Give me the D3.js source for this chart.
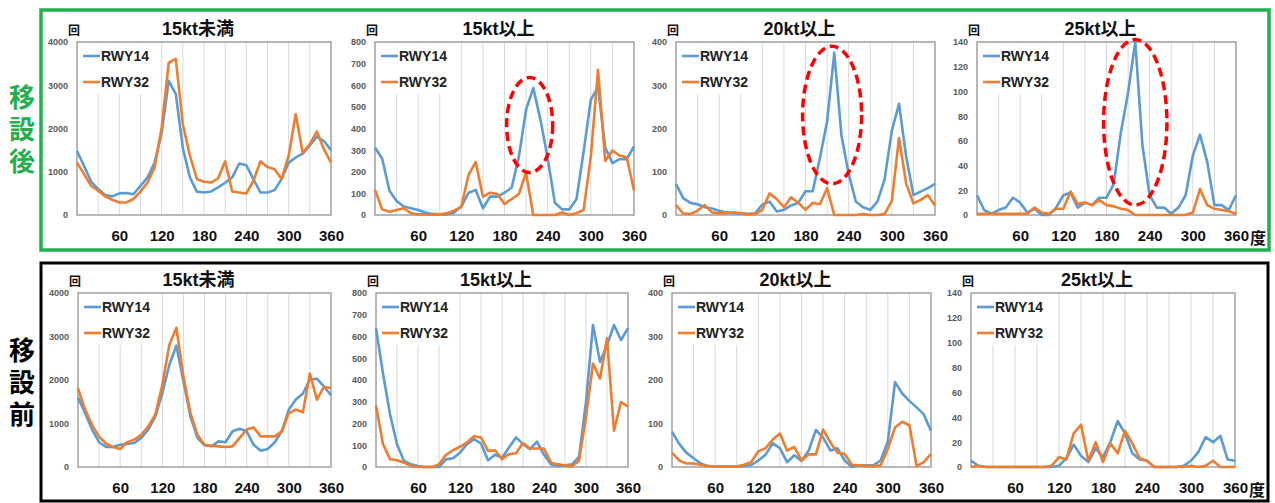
<!DOCTYPE html>
<html>
<head>
<meta charset="utf-8">
<script src="https://cdn.jsdelivr.net/npm/d3@7"></script>
<style>
  body { margin: 0; background: #fff; }
  svg { display: block; font-family: "Liberation Sans", Arial, "Noto Sans CJK JP", sans-serif; }
</style>
</head>
<body>
<svg id="chart" width="1275" height="503"></svg>
<script>
// wind direction (deg)
const deg = [0,10,20,30,40,50,60,70,80,90,100,110,120,130,140,150,160,170,180,190,200,210,220,230,240,250,260,270,280,290,300,310,320,330,340,350,360];
const xTicks = [60,120,180,240,300,360];
const gridDeg = [30,60,90,120,150,180,210,240,270,300,330];

const titles = ["15kt未満", "15kt以上", "20kt以上", "25kt以上"];
const yTicks = [
  [0,1000,2000,3000,4000],
  [0,100,200,300,400,500,600,700,800],
  [0,100,200,300,400],
  [0,20,40,60,80,100,120,140]
];

// 移設後
const afterLt15_14 = [1480,1140,770,600,460,430,500,510,480,675,870,1210,1900,3100,2800,1550,870,540,520,545,640,745,870,1190,1150,830,520,520,575,830,1210,1330,1420,1610,1810,1710,1500];
const afterLt15_32 = [1210,945,675,560,430,353,290,290,370,540,750,1100,2020,3520,3610,2100,1370,830,770,750,850,1240,545,520,500,790,1240,1110,1060,830,1370,2330,1430,1640,1930,1520,1210];
const after15_14 = [312,260,113,65,39,31,23,12,5,3,3,11,39,103,116,31,85,85,103,127,270,487,587,440,263,57,26,26,73,293,533,592,312,240,258,258,317];
const after15_32 = [116,26,15,23,31,8,3,3,3,3,8,20,39,185,244,85,103,97,51,74,97,196,0,0,0,0,12,0,8,23,270,672,250,298,275,266,113];
const after20_14 = [72,39,28,25,18,15,10,6,4,3,2,4,24,31,8,12,22,28,55,55,131,216,375,184,95,31,18,12,31,83,195,257,134,46,54,62,72];
const after20_32 = [23,4,2,10,23,6,4,4,6,4,2,2,12,50,37,18,41,28,12,28,25,62,0,0,0,0,2,0,0,2,33,178,72,27,35,46,22];
const after25_14 = [16,4,1,4,6,14,10,2,5,0,0,6,16,18,6,10,8,14,14,25,67,99,140,56,16,6,6,1,6,16,48,65,43,8,8,4,16];
const after25_32 = [1,1,1,1,1,1,1,1,6,2,1,5,5,19,9,10,8,12,8,7,5,4,0,0,0,0,0,0,0,0,2,21,8,5,4,3,1];

// 移設前
const beforeLt15_14 = [1600,1240,860,570,460,460,510,530,550,670,860,1160,1700,2350,2790,1970,1160,670,500,475,590,570,820,880,820,510,375,415,570,820,1320,1550,1690,2010,2030,1850,1650];
const beforeLt15_32 = [1815,1320,970,700,535,460,415,570,630,740,935,1200,1890,2810,3200,2080,1240,740,510,490,475,460,475,670,860,910,705,705,705,820,1240,1320,1260,2150,1550,1840,1815];
const before15_14 = [638,430,244,105,28,12,5,0,0,0,35,40,66,105,128,108,31,56,43,90,136,105,82,117,56,12,5,8,12,46,298,653,483,560,653,584,638];
const before15_32 = [283,105,36,31,20,5,0,0,0,12,56,77,93,113,141,136,74,77,36,59,63,110,85,85,85,20,12,8,3,28,229,476,406,592,167,298,278];
const before20_14 = [81,53,33,20,8,2,1,1,1,1,2,4,15,28,55,43,11,27,14,38,85,68,38,43,15,0,4,4,4,15,58,195,169,152,137,121,83];
const before20_32 = [33,15,8,8,5,2,1,1,1,1,5,11,36,43,63,77,38,46,15,29,29,86,57,33,30,5,4,2,2,4,42,91,104,96,2,11,30];
const before25_14 = [5,1,0,0,0,0,0,0,0,0,0,0,1,7,18,9,4,15,8,20,37,27,11,6,5,0,0,0,0,1,5,12,24,20,25,6,5];
const before25_32 = [0,1,0,0,0,0,0,0,0,0,0,1,8,6,27,34,5,20,4,19,11,29,19,7,5,0,0,0,0,0,1,0,1,5,0,0,0];

// red dashed ellipses (deg, value, half-width deg, half-height value)
const marks = [null, [215, 416, 32, 220], [217, 231, 41, 159], [220, 75, 44, 67]];

const blue = "#5b9bd5", orange = "#ed7d31";
const svg = d3.select("#chart");

// frames
svg.append("rect").attr("x", 41).attr("y", 10).attr("width", 1228).attr("height", 240)
  .attr("fill", "none").attr("stroke", "#21b04b").attr("stroke-width", 3.5);
svg.append("rect").attr("x", 41).attr("y", 263).attr("width", 1227).attr("height", 238)
  .attr("fill", "none").attr("stroke", "#000").attr("stroke-width", 3);

// vertical side labels
function sideLabel(str, y0, color) {
  svg.append("text")
    .attr("x", 22).attr("y", y0)
    .attr("writing-mode", "vertical-rl")
    .attr("letter-spacing", 6)
    .attr("font-family", "Noto Sans CJK JP").attr("font-weight", "bold").attr("font-size", 26)
    .attr("fill", color).text(str);
}
sideLabel("移設後", 84, "#21b04b");
sideLabel("移設前", 337, "#000");

const rows = [
  { top: 42, bottom: 215, xs: [[77,331],[375,634],[676,935],[977,1236]],
    data: [[afterLt15_14, afterLt15_32],[after15_14, after15_32],[after20_14, after20_32],[after25_14, after25_32]], marks: marks },
  { top: 293, bottom: 467, xs: [[78,331],[376,628],[672,931],[971,1235]],
    data: [[beforeLt15_14, beforeLt15_32],[before15_14, before15_32],[before20_14, before20_32],[before25_14, before25_32]], marks: [null,null,null,null] }
];

rows.forEach(row => {
  row.xs.forEach((xr, p) => {
    const ticks = yTicks[p];
    const x = d3.scaleLinear().domain([0, 360]).range(xr);
    const y = d3.scaleLinear().domain([0, ticks[ticks.length - 1]]).range([row.bottom, row.top]);
    const g = svg.append("g");

    // grid lines
    g.selectAll(".grid").data(gridDeg).join("line")
      .attr("x1", d => x(d)).attr("x2", d => x(d))
      .attr("y1", row.top).attr("y2", row.bottom)
      .attr("stroke", "#d9d9d9").attr("stroke-width", 1);

    // legend box hides the grid behind it
    g.append("rect").attr("x", xr[0] + 1).attr("y", row.top + 1)
      .attr("width", 76).attr("height", 51).attr("fill", "#fff");

    // plot border
    g.append("rect").attr("x", xr[0]).attr("y", row.top)
      .attr("width", xr[1] - xr[0]).attr("height", row.bottom - row.top)
      .attr("fill", "none").attr("stroke", "#a0a0a0").attr("stroke-width", 1.5);

    // y axis
    const ya = g.append("g").attr("transform", `translate(${xr[0]},0)`)
      .call(d3.axisLeft(y).tickValues(ticks).tickFormat(d3.format("d")).tickSize(0).tickPadding(9));
    ya.select(".domain").remove();
    ya.selectAll("text").attr("font-size", 9).attr("font-weight", "bold").attr("fill", "#595959")
      .attr("font-family", "Liberation Sans, Arial, sans-serif");

    // x axis
    const xa = g.append("g").attr("transform", `translate(0,${row.bottom})`)
      .call(d3.axisBottom(x).tickValues(xTicks).tickSize(0).tickPadding(15));
    xa.select(".domain").remove();
    xa.selectAll("text").attr("font-size", 15).attr("font-weight", "bold").attr("fill", "#111")
      .attr("font-family", "Liberation Sans, Arial, sans-serif");
    if (p === 3) {
      g.append("text").attr("x", xr[1] + 22).attr("y", row.bottom + 22)
        .attr("text-anchor", "middle").attr("dominant-baseline", "central")
        .attr("font-family", "Noto Sans CJK JP").attr("font-weight", "bold").attr("font-size", 16)
        .attr("fill", "#111").text("度");
    }

    // lines
    const line = d3.line().x((d, i) => x(deg[i])).y(d => y(d));
    [blue, orange].forEach((c, s) => {
      g.append("path").datum(row.data[p][s])
        .attr("fill", "none").attr("stroke", c).attr("stroke-width", 2.6)
        .attr("stroke-linejoin", "round").attr("d", line);
    });

    // legend
    ["RWY14", "RWY32"].forEach((t, s) => {
      const ly = row.top + 14 + s * 26;
      g.append("line").attr("x1", xr[0] + 6).attr("x2", xr[0] + 23)
        .attr("y1", ly).attr("y2", ly)
        .attr("stroke", s ? orange : blue).attr("stroke-width", 2.6);
      g.append("text").attr("x", xr[0] + 24).attr("y", ly)
        .attr("dominant-baseline", "central").attr("font-size", 14).attr("font-weight", "bold")
        .attr("fill", "#222").text(t);
    });

    // title and unit
    g.append("text").attr("x", (xr[0] + xr[1]) / 2 - 6).attr("y", row.top - 13)
      .attr("text-anchor", "middle").attr("dominant-baseline", "central")
      .attr("font-size", 18).attr("font-weight", "bold").attr("fill", "#111").text(titles[p]);
    g.append("text").attr("x", xr[0] - 3).attr("y", row.top - 13)
      .attr("text-anchor", "middle").attr("dominant-baseline", "central")
      .attr("font-family", "Noto Sans CJK JP").attr("font-size", 12).attr("font-weight", "bold")
      .attr("fill", "#111").text("回");

    // dashed ellipse
    const m = row.marks[p];
    if (m) {
      g.append("ellipse").attr("cx", x(m[0])).attr("cy", y(m[1]))
        .attr("rx", x(m[2]) - x(0)).attr("ry", y(0) - y(m[3]))
        .attr("fill", "none").attr("stroke", "#f00").attr("stroke-width", 3.5)
        .attr("stroke-dasharray", "9,5");
    }
  });
});
</script>
</body>
</html>
